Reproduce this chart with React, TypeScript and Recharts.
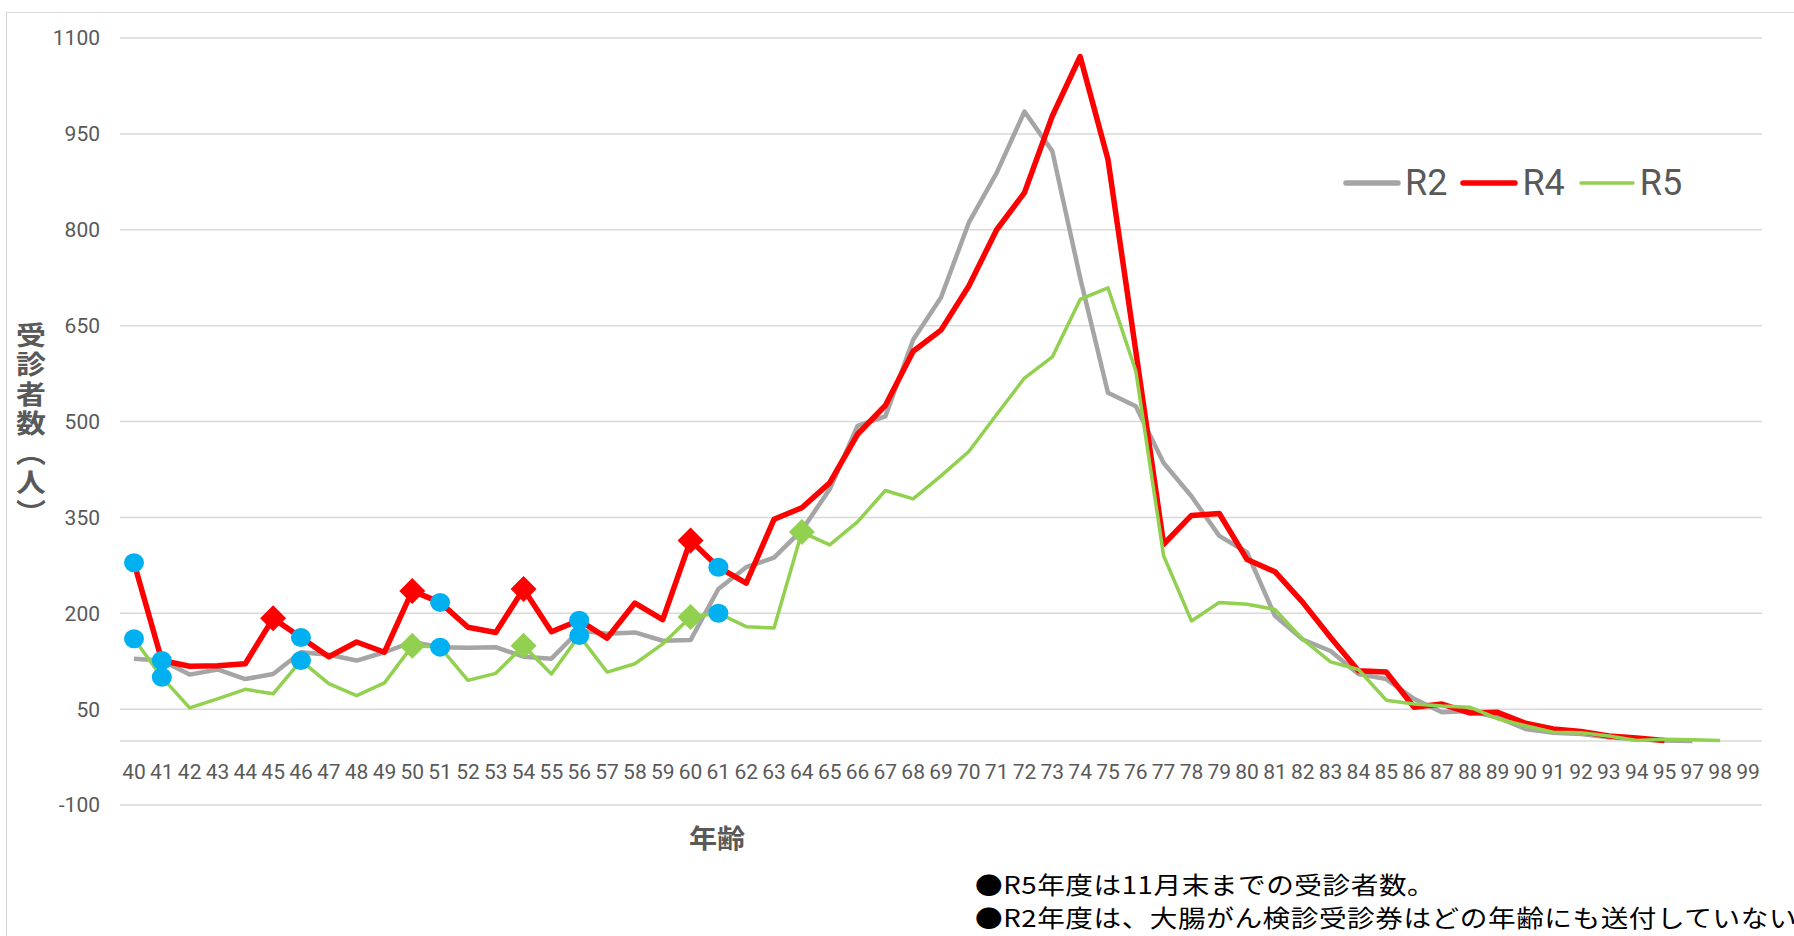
import React from 'react';
import { LineChart, Line, XAxis, YAxis, CartesianGrid, ReferenceLine } from 'recharts';

// 年齢（96歳は表にない）
const ages = [
  '40', '41', '42', '43', '44', '45', '46', '47', '48', '49',
  '50', '51', '52', '53', '54', '55', '56', '57', '58', '59',
  '60', '61', '62', '63', '64', '65', '66', '67', '68', '69',
  '70', '71', '72', '73', '74', '75', '76', '77', '78', '79',
  '80', '81', '82', '83', '84', '85', '86', '87', '88', '89',
  '90', '91', '92', '93', '94', '95', '97', '98', '99',
];

const r2 = [
  129, 126, 104, 112, 97, 105, 139, 135, 126, 139,
  155, 147, 146, 147, 132, 129, 173, 168, 170, 157,
  158, 238, 272, 287, 330, 394, 493, 508, 628, 694,
  811, 889, 985, 923, 725, 545, 524, 435, 383, 321,
  295, 196, 159, 141, 105, 97, 66, 45, 47, 37,
  19, 13, 11, 6, 3, 1, 0, null, null,
];

const r4 = [
  279, 126, 117, 118, 121, 192, 162, 132, 155, 139,
  235, 217, 178, 170, 238, 171, 189, 161, 216, 190,
  314, 272, 247, 347, 365, 404, 480, 525, 610, 643,
  712, 800, 858, 978, 1071, 910, 610, 308, 353, 356,
  284, 265, 217, 162, 110, 108, 53, 58, 44, 45,
  28, 19, 15, 8, 5, 1, null, null, null,
];

const r5 = [
  160, 100, 52, 66, 81, 74, 126, 90, 71, 91,
  149, 147, 95, 106, 149, 105, 165, 108, 121, 152,
  194, 200, 179, 177, 327, 307, 343, 392, 379, 415,
  453, 511, 568, 601, 691, 709, 579, 290, 188, 217,
  214, 206, 159, 124, 112, 64, 58, 55, 53, 35,
  24, 14, 13, 8, 1, 3, 2, 1, null,
];

// 送付対象年齢のマーカー
const circleAges = ['40', '41', '46', '51', '56', '61'];
const r4DiamondAges = ['45', '50', '54', '60'];
const r5DiamondAges = ['50', '54', '60', '64'];

const yTicks = [-100, 50, 200, 350, 500, 650, 800, 950, 1100];

const data = ages.map((age, i) => ({ age, R2: r2[i], R4: r4[i], R5: r5[i] }));

const textColor = '#595959';
const jpFont = "'Noto Sans CJK JP', sans-serif";

function makeDot(diamondAges: string[], diamondColor: string) {
  return (props: any) => {
    const { cx, cy, payload, index } = props;
    const key = `dot-${index}`;
    if (cx == null || cy == null || !payload) return <g key={key} />;
    if (circleAges.includes(payload.age)) {
      return <ellipse key={key} cx={cx} cy={cy} rx={10} ry={9.5} fill="#00B0F0" />;
    }
    if (diamondAges.includes(payload.age)) {
      const s = 13;
      return (
        <polygon
          key={key}
          points={`${cx},${cy - s} ${cx + s},${cy} ${cx},${cy + s} ${cx - s},${cy}`}
          fill={diamondColor}
        />
      );
    }
    return <g key={key} />;
  };
}

const AgeTick = (props: any) => {
  const { x, y, payload } = props;
  return (
    <text x={x} y={y - 33} textAnchor="middle" dominantBaseline="central" fill={textColor} fontSize={21} fontFamily="Roboto, sans-serif">
      {payload.value}
    </text>
  );
};

const legendItems = [
  { name: 'R2', color: '#A5A5A5', width: 5.5 },
  { name: 'R4', color: '#FF0000', width: 5.5 },
  { name: 'R5', color: '#92D050', width: 3.5 },
];

export default function App() {
  return (
    <div style={{ position: 'absolute', left: 0, top: 0, width: 1794, height: 936, overflow: 'hidden', background: '#fff' }}>
      <div style={{ position: 'absolute', left: 6, top: 12, width: 2000, height: 2000, border: '1.5px solid #D9D9D9' }} />
      <LineChart width={1794} height={936} data={data} margin={{ top: 38, right: 32, left: 20, bottom: 71 }}>
        <CartesianGrid vertical={false} stroke="#D9D9D9" strokeWidth={1.5} />
        <XAxis
          dataKey="age"
          interval={0}
          axisLine={false}
          tickLine={false}
          tickSize={0}
          tickMargin={0}
          height={60}
          padding={{ left: 14, right: 14 }}
          tick={<AgeTick />}
        />
        <YAxis
          domain={[-100, 1100]}
          ticks={yTicks}
          interval={0}
          axisLine={false}
          tickLine={false}
          tickSize={0}
          tickMargin={20}
          width={100}
          tick={{ fill: textColor, fontSize: 21, fontFamily: 'Roboto, sans-serif' }}
        />
        <ReferenceLine y={0} stroke="#D9D9D9" strokeWidth={1.5} />
        <Line dataKey="R2" stroke="#A5A5A5" strokeWidth={4.5} dot={false} activeDot={false} isAnimationActive={false} strokeLinejoin="round" />
        <Line dataKey="R4" stroke="#FF0000" strokeWidth={5.5} dot={makeDot(r4DiamondAges, '#FF0000')} activeDot={false} isAnimationActive={false} strokeLinejoin="round" />
        <Line dataKey="R5" stroke="#92D050" strokeWidth={3.5} dot={makeDot(r5DiamondAges, '#92D050')} activeDot={false} isAnimationActive={false} strokeLinejoin="round" />
      </LineChart>

      {/* 凡例 */}
      <div style={{ position: 'absolute', left: 1343, top: 160, display: 'flex', alignItems: 'center', height: 46 }}>
        {legendItems.map((item) => (
          <div key={item.name} style={{ display: 'flex', alignItems: 'center', marginRight: 13 }}>
            <svg width={58} height={12} style={{ marginRight: 4 }}>
              <line x1={3} y1={6} x2={55} y2={6} stroke={item.color} strokeWidth={item.width} strokeLinecap="round" />
            </svg>
            <span style={{ fontFamily: 'Roboto, sans-serif', fontSize: 36, color: textColor, lineHeight: 1 }}>{item.name}</span>
          </div>
        ))}
      </div>

      {/* 軸ラベル */}
      <div style={{ position: 'absolute', left: 31, top: 425, transform: 'translate(-50%, -50%) scaleX(1.15)', writingMode: 'vertical-rl', textOrientation: 'upright', fontFamily: jpFont, fontWeight: 700, fontSize: 26, color: textColor, letterSpacing: 3.5 }}>
        受診者数（人）
      </div>
      <div style={{ position: 'absolute', left: 717, top: 836, transform: 'translate(-50%, -50%) scaleX(1.08)', fontFamily: jpFont, fontWeight: 700, fontSize: 26, color: textColor }}>
        年齢
      </div>

      {/* 注記 */}
      <div style={{ position: 'absolute', left: 975, top: 867, transform: 'scaleX(1.15)', transformOrigin: 'left top', fontFamily: jpFont, fontSize: 24, letterSpacing: 0.5, color: '#000', lineHeight: '33px', whiteSpace: 'nowrap' }}>
        <div>●R5年度は11月末までの受診者数。</div>
        <div>●R2年度は、大腸がん検診受診券はどの年齢にも送付していない。</div>
      </div>
    </div>
  );
}
